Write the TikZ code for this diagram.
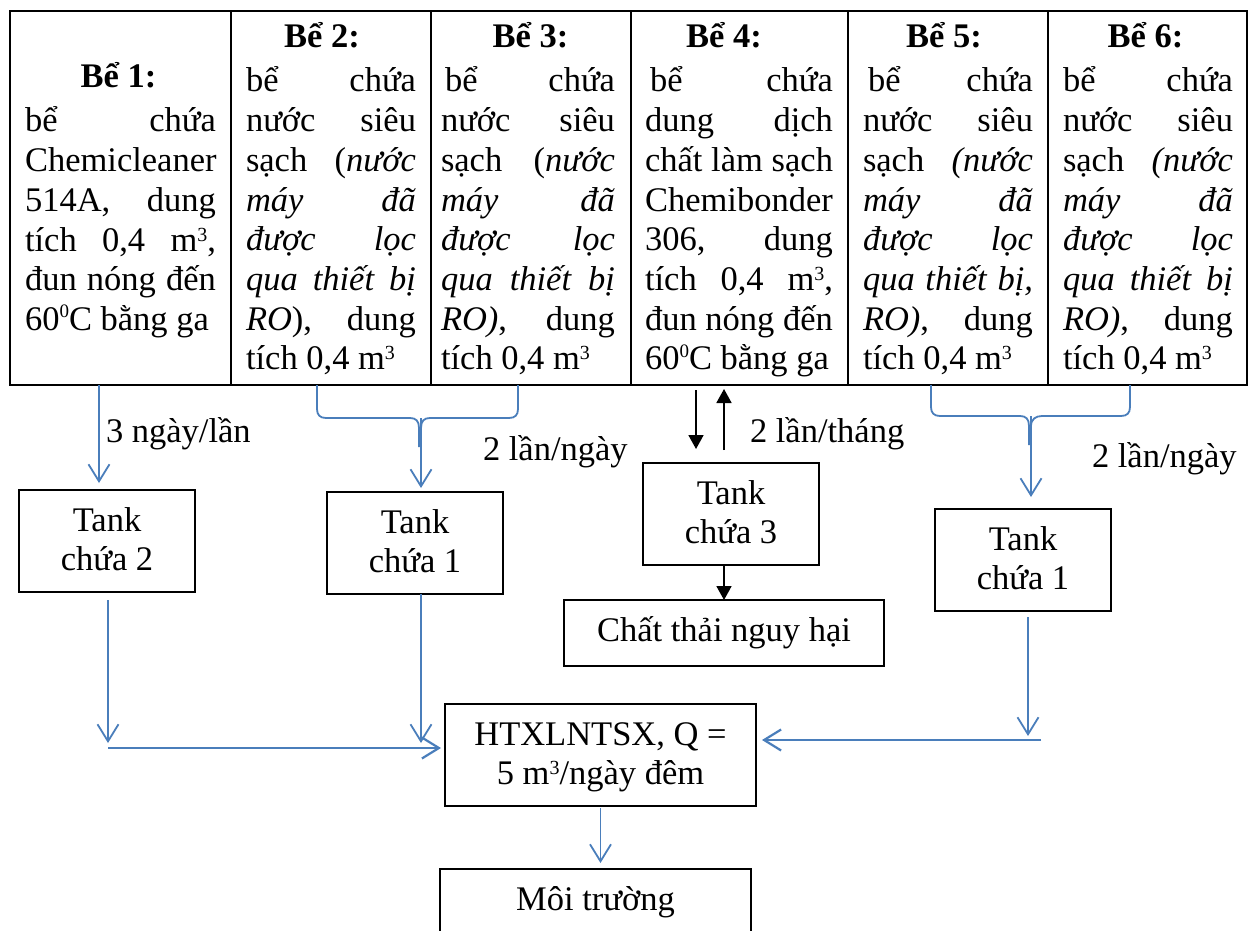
\documentclass[tikz,border=0pt]{standalone}
\usepackage{fontspec}
\setmainfont{Liberation Serif}
\usetikzlibrary{arrows.meta}
\definecolor{flowblue}{RGB}{74,126,187}

% one justified line of a cell, and one plain (left) line
\newcommand\jline[1]{\makebox[\linewidth][s]{#1}\par}
\newcommand\eline[1]{\makebox[\linewidth][l]{#1}\par}
\newcommand\cellbody[2]{\parbox[t]{#1}{#2}}
\newcommand\tstrut{\rule{0pt}{28pt}}
\newcommand\bstrut{\rule[-8pt]{0pt}{8pt}}
% small raised figures: cubic metre and the degree zero of 60 C
\newcommand\supr[1]{\raisebox{10pt}{\fontsize{20}{20}\selectfont #1}}
\newcommand\supz{\raisebox{12.5pt}{\fontsize{19}{19}\selectfont 0}}

\begin{document}
\begin{tikzpicture}[x=1pt,y=-1pt,
  basefont/.style={font=\fontsize{34.5}{39.7}\selectfont},
  cell/.style={draw, line width=2.6pt, inner sep=0pt, outer sep=0pt},
  box/.style={draw, line width=1.6pt, inner sep=0pt, outer sep=0pt, align=center, basefont},
  txt/.style={inner sep=0pt, outer sep=0pt, basefont},
  head/.style={inner sep=0pt, outer sep=0pt, anchor=base, font=\fontsize{34.5}{39.7}\selectfont\bfseries},
  flow/.style={draw=flowblue, line width=1.8pt},
  flowarrow/.style={flow, -{Straight Barb[length=17pt,width=21pt]}},
  blkarrow/.style={draw=black, line width=1.8pt, -{Triangle[length=14pt,width=15pt]}}
]
\useasboundingbox (0,0) rectangle (1251,931);
\clip (0,0) rectangle (1251,931);
\fill[white] (0,0) rectangle (1251,931);

% ---- table of the six tanks ----
\node[cell, minimum width=221pt, minimum height=374pt] (c1) at (120.5,198) {};
\node[cell, minimum width=200pt, minimum height=374pt] (c2) at (331,198) {};
\node[cell, minimum width=200pt, minimum height=374pt] (c3) at (531,198) {};
\node[cell, minimum width=217pt, minimum height=374pt] (c4) at (739.5,198) {};
\node[cell, minimum width=200pt, minimum height=374pt] (c5) at (948,198) {};
\node[cell, minimum width=199pt, minimum height=374pt] (c6) at (1147.5,198) {};

\node[head] (h1) at (118.5,88) {Bể 1:};
\node[head] (h2) at (322,48) {Bể 2:};
\node[head] (h3) at (530.5,48) {Bể 3:};
\node[head] (h4) at (724,48) {Bể 4:};
\node[head] (h5) at (944,48) {Bể 5:};
\node[head] (h6) at (1145.5,48) {Bể 6:};

\node[txt, anchor=base west] (b1) at (25,132) {\cellbody{191pt}{%
  \jline{bể chứa}
  \eline{Chemicleaner}
  \jline{514A, dung}
  \jline{tích 0,4 m\supr{3},}
  \jline{đun nóng đến}
  \eline{60\supz C bằng ga}}};

\node[txt, anchor=base west] (b2) at (246,92) {\cellbody{170pt}{%
  \jline{bể chứa}
  \jline{nước siêu}
  \jline{sạch (\textit{nước}}
  \jline{\textit{máy đã}}
  \jline{\textit{được lọc}}
  \jline{\textit{qua thiết bị}}
  \jline{\textit{RO}), dung}
  \eline{tích 0,4 m\supr{3}}}};

\node[txt, anchor=base west] (b3) at (441,92) {\cellbody{174pt}{%
  \jline{\hspace*{4pt}bể chứa}
  \jline{nước siêu}
  \jline{sạch (\textit{nước}}
  \jline{\textit{máy đã}}
  \jline{\textit{được lọc}}
  \jline{\textit{qua thiết bị}}
  \jline{\textit{RO)}, dung}
  \eline{tích 0,4 m\supr{3}}}};

\node[txt, anchor=base west] (b4) at (645,92) {\cellbody{188pt}{%
  \jline{\hspace*{5pt}bể chứa}
  \jline{dung dịch}
  \jline{chất làm sạch}
  \eline{Chemibonder}
  \jline{306, dung}
  \jline{tích 0,4 m\supr{3},}
  \jline{đun nóng đến}
  \eline{60\supz C bằng ga}}};

\node[txt, anchor=base west] (b5) at (863,92) {\cellbody{170pt}{%
  \jline{\hspace*{5pt}bể chứa}
  \jline{nước siêu}
  \jline{sạch \textit{(nước}}
  \jline{\textit{máy đã}}
  \jline{\textit{được lọc}}
  \jline{\textit{qua thiết bị,}}
  \jline{\textit{RO)}, dung}
  \eline{tích 0,4 m\supr{3}}}};

\node[txt, anchor=base west] (b6) at (1063,92) {\cellbody{170pt}{%
  \jline{bể chứa}
  \jline{nước siêu}
  \jline{sạch \textit{(nước}}
  \jline{\textit{máy đã}}
  \jline{\textit{được lọc}}
  \jline{\textit{qua thiết bị}}
  \jline{\textit{RO)}, dung}
  \eline{tích 0,4 m\supr{3}}}};

% ---- process boxes ----
\node[box, minimum width=176pt, minimum height=102pt] (tank2) at (107,541) {\tstrut Tank\\chứa 2\bstrut};
\node[box, minimum width=176pt, minimum height=102pt] (tank1a) at (415,543) {\tstrut Tank\\chứa 1\bstrut};
\node[box, minimum width=176pt, minimum height=102pt] (tank3) at (731,514) {\tstrut Tank\\chứa 3\bstrut};
\node[box, minimum width=320pt, minimum height=66pt, text height=24pt, text depth=8pt] (waste) at (724,633) {Chất thải nguy hại};
\node[box, minimum width=176pt, minimum height=102pt] (tank1b) at (1023,560) {\tstrut Tank\\chứa 1\bstrut};
\node[box, minimum width=311pt, minimum height=102pt] (htxl) at (600.5,755) {\tstrut HTXLNTSX, Q =\\5 m\supr{3}/ngày đêm\bstrut};
\node[box, minimum width=311pt, minimum height=66pt, text height=24pt, text depth=8pt] (env) at (595.5,902) {Môi trường};

% ---- frequency labels ----
\node[txt, anchor=base west] (l1) at (106,442) {3 ngày/lần};
\node[txt, anchor=base west] (l2) at (483,460) {2 lần/ngày};
\node[txt, anchor=base west] (l3) at (750,442) {2 lần/tháng};
\node[txt, anchor=base west] (l4) at (1092,467) {2 lần/ngày};

% ---- tank 1 to tank chua 2 ----
\coordinate (s1) at (99,385);
\draw[flowarrow, shorten >=7pt] (s1) -- (s1 |- tank2.north);

% ---- tanks 2 and 3 joined by a brace ----
\draw[flow] (317,385) -- (317,409) .. controls (317,415) and (320,418) .. (326,418) -- (410,418)
  .. controls (416,418) and (419,421) .. (419,428) -- (419,447);
\draw[flow] (518,385) -- (518,409) .. controls (518,415) and (515,418) .. (509,418) -- (430,418)
  .. controls (424,418) and (421,421) .. (421,428) -- (421,447);
\coordinate (bA) at (421,418);
\draw[flowarrow, shorten >=4pt] (bA) -- (bA |- tank1a.north);

% ---- tank 4 exchange with tank chua 3 ----
\coordinate (s4a) at (696,385);
\coordinate (s4b) at (724,385);
\draw[blkarrow, shorten <=5pt, shorten >=14pt] (s4a) -- (s4a |- tank3.north);
\draw[blkarrow, shorten <=13pt, shorten >=4pt] (s4b |- tank3.north) -- (s4b);
\draw[blkarrow] (waste.north |- tank3.south) -- (waste.north);

% ---- tanks 5 and 6 joined by a brace ----
\draw[flow] (931,385) -- (931,407) .. controls (931,413) and (934,416) .. (940,416) -- (1020,416)
  .. controls (1026,416) and (1029,419) .. (1029,426) -- (1029,445);
\draw[flow] (1130,385) -- (1130,407) .. controls (1130,413) and (1127,416) .. (1121,416) -- (1042,416)
  .. controls (1036,416) and (1031,419) .. (1031,426) -- (1031,445);
\coordinate (bB) at (1031,416);
\draw[flowarrow, shorten >=12pt] (bB) -- (bB |- tank1b.north);

% ---- into the treatment system ----
\coordinate (j1) at (108,748);
\draw[flowarrow, shorten <=8pt, shorten >=5pt] (tank2.south -| j1) -- (j1);
\draw[flow, line width=2.2pt, -{Straight Barb[length=17pt,width=21pt]}, shorten >=4pt] (j1) -- (j1 -| htxl.west);
\coordinate (j2) at (421,748);
\draw[flowarrow, shorten >=5pt] (tank1a.south -| j2) -- (j2);
\coordinate (j3v) at (1028,740);
\draw[flowarrow, shorten <=6pt, shorten >=4pt] (tank1b.south -| j3v) -- (j3v);
\coordinate (j3) at (1041,740);
\draw[flow, line width=2.2pt, -{Straight Barb[length=17pt,width=21pt]}, shorten >=6pt] (j3) -- (j3 -| htxl.east);

% ---- discharge ----
\draw[flowarrow, shorten <=2pt, shorten >=6pt] (htxl.south) -- (htxl.south |- env.north);
\end{tikzpicture}
\end{document}
